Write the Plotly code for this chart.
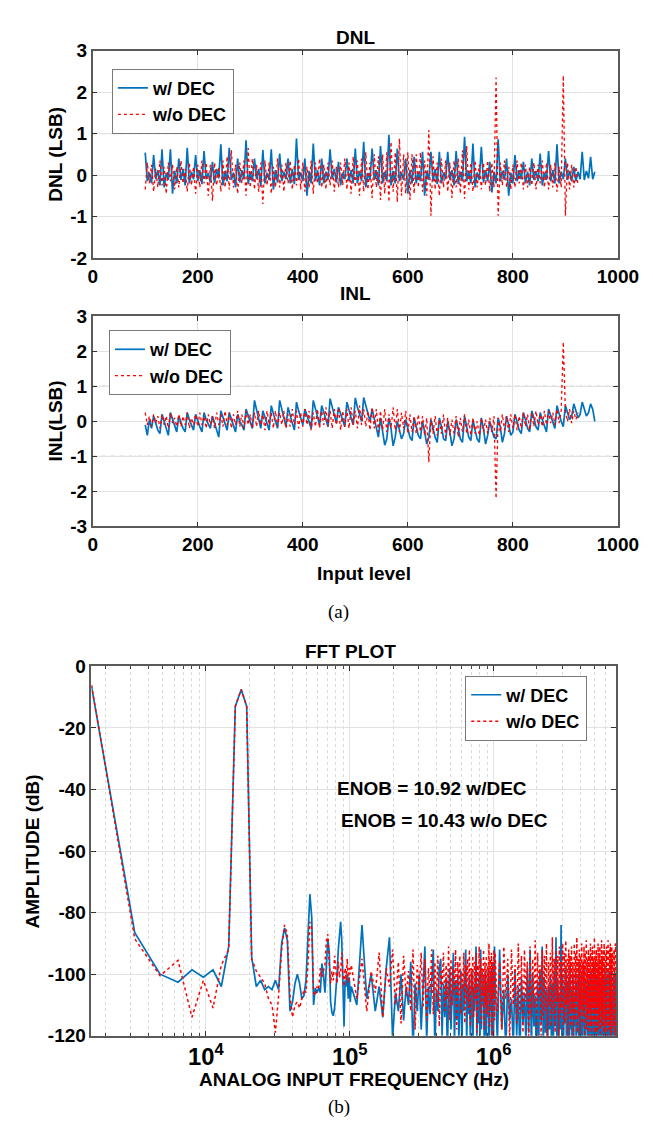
import numpy as np
import plotly.graph_objects as go

BLUE = "#0072BD"
RED = "#FF0000"

# ---- DNL / INL data (sampled every 4 input codes) ----
codes_dec = np.arange(100, 957, 4)
codes_nodec = np.arange(100, 925, 4)

dnl_dec = [
    .54, -.15, .06, -.2, .48, -.1, .12, -.25, .62, -.3, .05, -.12, .62, -.45, .1, -.2,
    .4, -.12, .15, -.25, .66, -.2, .08, -.1, .48, -.15, .12, -.22, .58, -.1, .05, -.18,
    .32, -.2, .15, -.08, .74, -.25, .1, -.15, .66, -.12, .06, -.3, .4, -.18, .12, -.1,
    .84, -.22, .08, -.15, .4, -.1, .15, -.28, .6, -.2, .05, -.12, .62, -.35, .12, -.18,
    .52, -.15, .08, -.1, .4, -.2, .14, -.22, .88, -.12, .06, -.15, .4, -.5, .1, -.2,
    .76, -.15, .12, -.25, .4, -.2, .08, -.12, .62, -.1, .15, -.18, .32, -.25, .06, -.1,
    .4, -.15, .12, -.2, .64, -.2, .1, -.15, .8, -.3, .05, -.12, .64, -.12, .12, -.25,
    .7, -.2, .08, -.15, .97, -.25, .1, -.2, .64, -.15, .06, -.12, .4, -.45, .12, -.2,
    .44, -.2, .08, -.15, .56, -.5, .1, -.12, .56, -.15, .14, -.22, .56, -.2, .06, -.1,
    .56, -.12, .12, -.25, .58, -.22, .08, -.15, .92, -.15, .1, -.2, .76, -.3, .06, -.12,
    .68, -.18, .12, -.15, .32, -.42, .08, -.2, .86, -.15, .1, -.12, .4, -.5, .06, -.2,
    .48, -.15, .12, -.1, .32, -.2, .08, -.25, .4, -.12, .1, -.15, .52, -.25, .06, -.12,
    .58, -.15, .12, -.2, .74, -.2, .08, -.1, .4, -.12, .1, -.15, .2, -.15, .08, -.1,
    .56, -.12, .1, -.08, .44, -.1, .08,
]

dnl_nodec = [
    -.35, .3, -.2, .25, -.4, .15, -.3, .35, -.25, .2, -.45, .3, -.15, .25, -.35, .2,
    -.3, .35, -.2, .15, -.4, .3, -.25, .2, -.45, .25, -.3, .35, -.2, .3, -.5, .25,
    -.62, .3, -.25, .2, -.4, .35, -.3, .45, -.35, .6, -.3, .25, -.45, .3, -.2, .35,
    -.5, .65, -.3, .4, -.35, .25, -.4, .3, -.7, .35, -.25, .3, -.45, .2, -.3, .4,
    -.3, .25, -.4, .3, -.2, .35, -.35, .25, -.25, .4, -.35, .3, -.4, .2, -.3, .35,
    -.45, .3, -.2, .4, -.3, .25, -.35, .3, -.25, .35, -.4, .2, -.3, .3, -.25, .4,
    -.35, .3, -.45, .45, -.3, .35, -.5, .4, -.4, .55, -.35, .3, -.55, .5, -.3, .45,
    -.6, .5, -.45, .55, -.65, .8, -.4, .55, -.65, .88, -.5, .5, -.45, .55, -.6, .5,
    -.45, .5, -.3, .55, -.4, .35, -.5, 1.08, -.98, .45, -.35, .3, -.5, .4, -.3, .35,
    -.4, .3, -.55, .35, -.3, .4, -.45, .6, -.57, .7, -.35, .3, -.4, .35, -.3, .25,
    -.35, .3, -.25, .35, -.4, .3, -.3, 2.35, -.98, .3, -.25, .35, -.3, .2, -.35, .25,
    -.3, .35, -.2, .3, -.35, .25, -.3, .2, -.25, .3, -.35, .25, -.2, .35, -.3, .3,
    -.35, .25, -.3, .3, -.4, .2, -.3, 2.4, -.98, .3, -.35, .25, -.3, .2, -.25,
]

inl_dec = [
    -.1, -.4, .05, -.2, .15, -.05, -.25, -.35, .2, 0, -.2, -.4, .25, .05, -.15, -.3,
    .15, -.05, -.2, -.3, .25, .05, -.1, -.25, .2, 0, -.15, -.3, .25, .05, -.1, -.2,
    .15, -.05, -.2, -.45, .3, .1, -.1, -.25, .25, .05, -.15, -.3, .2, 0, -.1, -.25,
    .35, .15, 0, -.2, .6, .3, .05, -.2, .3, .1, -.1, -.25, .45, .2, 0, -.2,
    .6, .35, .1, -.15, .4, .15, -.05, -.25, .55, .3, .1, -.1, .35, .15, -.05, -.2,
    .6, .35, .1, -.1, .45, .25, .05, -.15, .65, .4, .15, -.05, .4, .2, 0, -.15,
    .55, .3, .1, -.1, .67, .4, .2, 0, .68, .45, .2, 0, .35, .1, -.2, -.45,
    .1, -.3, -.68, -.5, .1, -.2, -.7, -.45, 0, -.25, -.5, -.35, .05, -.2, -.45, -.55,
    .1, -.15, -.4, -.5, 0, -.3, -.65, -.45, .05, -.2, -.45, -.6, .1, -.15, -.5, -.55,
    0, -.3, -.7, -.5, .05, -.2, -.5, -.6, .15, -.15, -.45, -.55, .05, -.25, -.5, -.6,
    .1, -.2, -.65, -.4, 0, -.25, -.45, -.5, .1, -.15, -.6, -.35, .15, -.1, -.4, -.3,
    .2, 0, -.25, -.35, .25, .05, -.2, -.3, .3, .1, -.15, -.25, .25, .05, -.1, -.3,
    .35, .15, -.05, -.2, .45, .2, 0, -.15, .45, .25, .05, .15, .5, .3, .1, .2,
    .55, .35, .15, .25, .5, .35, 0,
]

inl_nodec = [
    .25, -.1, .15, -.15, .2, -.05, .15, -.2, .2, -.1, .15, -.2, .25, -.05, .1, -.15,
    .2, -.15, .15, -.1, .25, -.2, .1, -.1, .2, -.15, .25, -.1, .15, -.2, .2, -.1,
    .15, -.2, .25, -.1, .2, -.15, .3, -.1, .25, -.2, .2, -.1, .3, -.15, .2, -.2,
    .3, -.1, .2, -.2, .25, -.15, .3, -.1, .2, -.25, .3, -.1, .25, -.2, .3, -.15,
    .25, -.1, .3, -.2, .2, -.15, .35, -.1, .3, -.2, .25, -.15, .35, -.1, .3, -.25,
    .25, -.15, .35, -.2, .3, -.1, .4, -.15, .3, -.2, .35, -.1, .4, -.25, .3, -.15,
    .35, -.2, .4, -.1, .3, -.2, .45, -.1, .35, -.15, .3, -.25, .4, -.2, .35, -.3,
    .3, -.25, .35, -.3, .2, -.2, .4, -.25, .35, -.3, .25, -.2, .3, -.35, .2, -.3,
    .15, -.35, .2, -.3, .15, -.4, .1, -1.17, .1, -.35, .15, -.4, .05, -.35, .2, -.45,
    .1, -.4, .05, -.35, .15, -.45, .1, -.3, .2, -.35, .05, -.4, .1, -.35, 0, -.4,
    .1, -.3, .05, -.35, .1, -.3, .15, -2.2, .1, -.3, .2, -.25, .15, -.3, .2, -.2,
    .2, -.25, .15, -.2, .25, -.15, .2, -.25, .25, -.15, .3, -.1, .2, -.15, .3, -.1,
    .3, -.05, .25, -.1, .35, -.05, .3, 2.27, .3, 0, .35, -.05, .3, .05, .25,
]
nl_limits = [-1, 1]
dnl_ticks = [-2, -1, 0, 1, 2, 3]
inl_ticks = [-3, -2, -1, 0, 1, 2, 3]
fft_db_ticks = [-120, -100, -80, -60, -40, -20, 0]

# ---- FFT data (bin spacing 1.6 kHz) ----
bin_hz = 1600
fft_bins = np.concatenate([np.arange(1, 64), np.arange(64, 635, 6), np.arange(640, 4433, 24)])
fft_freq = fft_bins * bin_hz

fft_dec = [
    -6.4, -86.5, -100, -102.6, -98.6, -101, -98.6, -104, -91, -13,
    -7.5, -13, -94.5, -104, -102, -105, -104, -105, -102, -105,
    -90, -85, -89, -112, -109, -103, -100, -103, -108, -107,
    -102, -89, -74, -81.5, -110, -104.5, -106, -104.5, -106, -96.5,
    -100, -106, -95, -88.5, -93, -109, -112.5, -113.5, -111, -106,
    -100, -92, -87, -83, -89, -105, -117, -102, -104, -100,
    -108, -101, -109,
    # 102 kHz - 1 MHz
    -104, -110, -84, -108, -100, -112, -104, -114, -98, -88,
    -121, -106, -112, -100, -115, -104, -110, -96, -125, -103,
    -112, -100, -118, -106, -91, -122, -104, -113, -100, -92,
    -124, -105, -112, -98, -95, -120, -103, -114, -101, -126,
    -106, -98, -118, -104, -93, -123, -102, -115, -100, -121,
    -105, -99, -126, -103, -112, -100, -92, -124, -104, -113,
    -101, -120, -106, -99, -125, -104, -112, -98, -91, -122,
    -103, -116, -100, -124, -92, -118, -104, -110, -100, -127,
    -105, -99, -121, -103, -114, -98, -125, -102, -112, -99,
    -120, -104, -96, -126, -103, -91,
    # 1 MHz - 7 MHz
    -102, -122, -92, -118, -105, -126, -100, -115, -108, -124,
    -99, -120, -104, -128, -101, -116, -106, -123, -98, -119,
    -92, -125, -100, -117, -107, -130, -102, -121, -99, -116,
    -91, -124, -101, -119, -105, -127, -104, -118, -100, -122,
    -103, -126, -99, -117, -88, -123, -102, -129, -106, -118,
    -84, -121, -100, -125, -104, -116, -98, -128, -103, -120,
    -101, -124, -97, -118, -105, -130, -100, -122, -106, -117,
    -99, -126, -103, -119, -101, -123, -96, -128, -104, -120,
    -100, -125, -106, -117, -98, -129, -102, -121, -105, -118,
    -97, -124, -103, -127, -100, -119, -106, -122, -99, -126,
    -104, -118, -101, -128, -97, -121, -105, -125, -100, -117,
    -103, -130, -98, -120, -106, -124, -101, -119, -104, -127,
    -99, -122, -105, -118, -100, -126, -103, -121, -97, -129,
    -106, -117, -101, -125, -104, -120, -98, -128, -103, -119,
    -100, -124, -105, -118, -99, -127, -102, -121, -106, -123,
    -101, -119, -104, -126, -98, -122, -103, -118, -100,
]

fft_nodec = [
    -6, -88.5, -100.5, -95.5, -114, -102, -111, -97, -92, -13,
    -7.5, -13, -95, -99, -101, -103, -108, -110, -119, -107,
    -92, -84, -87, -107, -114, -110, -109, -111, -108, -105,
    -106, -97, -83, -85, -106, -107, -104, -105, -98, -101,
    -99, -97, -89, -87, -97, -103, -99, -102, -94, -98,
    -103, -96, -101, -99, -93, -100, -104, -98, -102, -95,
    -103, -98, -100,
    # 102 kHz - 1 MHz
    -97, -108, -95, -112, -99, -106, -93, -114, -98, -104,
    -92, -110, -96, -116, -94, -107, -99, -112, -92, -118,
    -97, -105, -93, -111, -95, -115, -98, -106, -92, -113,
    -96, -109, -94, -117, -99, -104, -93, -112, -97, -108,
    -91, -115, -95, -110, -98, -106, -92, -118, -96, -107,
    -94, -113, -99, -105, -93, -116, -97, -109, -95, -111,
    -92, -117, -98, -106, -94, -114, -96, -108, -93, -119,
    -97, -105, -91, -112, -95, -116, -98, -107, -92, -118,
    -96, -110, -94, -113, -97, -106, -90, -117, -95, -109,
    -93, -120, -96, -108, -92, -115,
    # 1 MHz - 7 MHz
    -93, -112, -96, -118, -91, -108, -95, -121, -92, -110,
    -97, -116, -90, -113, -94, -119, -92, -109, -96, -122,
    -91, -114, -95, -111, -89, -118, -93, -108, -97, -120,
    -92, -115, -94, -112, -90, -123, -96, -110, -93, -117,
    -88, -113, -95, -119, -92, -109, -94, -121, -91, -114,
    -96, -111, -90, -118, -93, -116, -89, -110, -95, -124,
    -92, -113, -94, -117, -91, -112, -96, -120, -90, -115,
    -93, -109, -88, -119, -95, -114, -92, -122, -94, -111,
    -90, -116, -96, -113, -91, -121, -93, -110, -89, -118,
    -95, -114, -92, -120, -94, -112, -90, -117, -93, -123,
    -91, -111, -95, -116, -88, -119, -94, -113, -92, -121,
    -96, -110, -90, -118, -93, -115, -91, -122, -95, -112,
    -89, -117, -94, -114, -92, -120, -90, -111, -96, -119,
    -93, -116, -91, -113, -95, -121, -89, -110, -94, -118,
    -92, -115, -90, -122, -94, -112, -91, -119, -93, -114,
    -95, -117, -92, -111, -94, -120, -90, -116, -93,
]

W, H = 653, 1131


def px(x, y):
    return x / W, 1 - y / H


fig = go.Figure()

series = [
    ("x", "y", "legend", codes_dec, dnl_dec, codes_nodec, dnl_nodec, 1.3),
    ("x2", "y2", "legend2", codes_dec, inl_dec, codes_nodec, inl_nodec, 1.3),
    ("x3", "y3", "legend3", fft_freq, fft_dec, fft_freq, fft_nodec, 1.5),
]
for xa, ya, lg, x1, y1, x2, y2, rw in series:
    fig.add_trace(go.Scatter(x=x1, y=y1, xaxis=xa, yaxis=ya, legend=lg, mode="lines",
                             name="w/ DEC", line=dict(color=BLUE, width=1.7)))
    fig.add_trace(go.Scatter(x=x2, y=y2, xaxis=xa, yaxis=ya, legend=lg, mode="lines",
                             name="w/o DEC", line=dict(color=RED, width=rw, dash="dot")))

# +-1 LSB reference lines
for xa, ya in [("x", "y"), ("x2", "y2")]:
    for v in nl_limits:
        fig.add_shape(type="line", xref=f"{xa} domain", x0=0, x1=1, yref=ya, y0=v, y1=v,
                      line=dict(color="#444", width=1, dash="4px,2px,1px,2px"), layer="below")

tick_font = dict(family="Liberation Sans", size=19, color="black", weight="bold")
ax = dict(showline=True, linecolor="#5a5a5a", linewidth=1.5, mirror="allticks",
          ticks="inside", ticklen=5, tickcolor="#333", showgrid=True,
          gridcolor="#e2e2e2", gridwidth=1, zeroline=False, tickfont=tick_font)


def yticks(vals):
    return dict(tickmode="array", tickvals=vals, ticktext=[str(v) for v in vals])


lx0, lx1 = px(83, 0)[0], px(630, 0)[0]
fx0, fx1 = px(81.7, 0)[0], px(628, 0)[0]

fig.update_layout(
    width=W, height=H,
    margin=dict(l=0, r=0, t=0, b=0),
    paper_bgcolor="white", plot_bgcolor="white",
    font=dict(family="Liberation Sans", color="black"),
    xaxis=dict(ax, domain=[lx0, lx1], range=[0, 1000], dtick=200, anchor="y"),
    yaxis=dict(ax, **yticks(dnl_ticks), domain=[px(0, 244.5)[1], px(0, 33.3)[1]],
               range=[-2, 3], anchor="x"),
    xaxis2=dict(ax, domain=[lx0, lx1], range=[0, 1000], dtick=200, anchor="y2"),
    yaxis2=dict(ax, **yticks(inl_ticks), domain=[px(0, 518)[1], px(0, 304)[1]],
                range=[-3, 3], anchor="x2"),
    xaxis3=dict(ax, type="log", domain=[fx0, fx1],
                range=[np.log10(fft_freq[0]), np.log10(fft_freq[-1])],
                dtick=1, exponentformat="power", anchor="y3",
                minor=dict(ticks="inside", ticklen=3, tickcolor="#444", dtick="D1",
                           showgrid=True, gridcolor="#dadada", griddash="dot", gridwidth=1)),
    yaxis3=dict(ax, **yticks(fft_db_ticks), domain=[px(0, 1037)[1], px(0, 660.7)[1]],
                range=[-120, 0], anchor="x3"),
    showlegend=True,
)

leg = dict(xanchor="left", yanchor="top", bgcolor="white", bordercolor="#7a7a7a",
           borderwidth=1, tracegroupgap=0,
           font=dict(family="Liberation Sans", size=18, weight="bold", color="black"))
fig.update_layout(
    legend=dict(leg, x=px(103, 0)[0], y=px(0, 51.7)[1]),
    legend2=dict(leg, x=px(100, 0)[0], y=px(0, 318)[1]),
    legend3=dict(leg, x=px(471, 0)[0], y=px(0, 670)[1]),
)

bold = dict(family="Liberation Sans", size=19, color="black", weight="bold")
serif = dict(family="Liberation Serif", size=19, color="black")
texts = [
    ("DNL", 357, 20, 0, bold, "center"),
    ("INL", 357, 281, 0, bold, "center"),
    ("FFT PLOT", 352, 645, 0, bold, "center"),
    ("DNL (LSB)", 44, 139, -90, bold, "center"),
    ("INL(LSB)", 44, 411, -90, bold, "center"),
    ("Input level", 366, 566, 0, bold, "center"),
    ("AMPLITUDE (dB)", 20, 849, -90, bold, "center"),
    ("ANALOG INPUT FREQUENCY (Hz)", 355, 1082, 0, bold, "center"),
    ("ENOB = 10.92 w/DEC", 335, 785, 0, bold, "left"),
    ("ENOB = 10.43 w/o DEC", 339, 818, 0, bold, "left"),
    ("(a)", 339, 605, 0, serif, "center"),
    ("(b)", 339, 1110, 0, serif, "center"),
]
for t, x, y, ang, f, anc in texts:
    xp, yp = px(x, y)
    fig.add_annotation(text=t, x=xp, y=yp, xref="paper", yref="paper", showarrow=False,
                       textangle=ang, font=f, xanchor=anc, yanchor="middle")

fig.write_html("out.html")
